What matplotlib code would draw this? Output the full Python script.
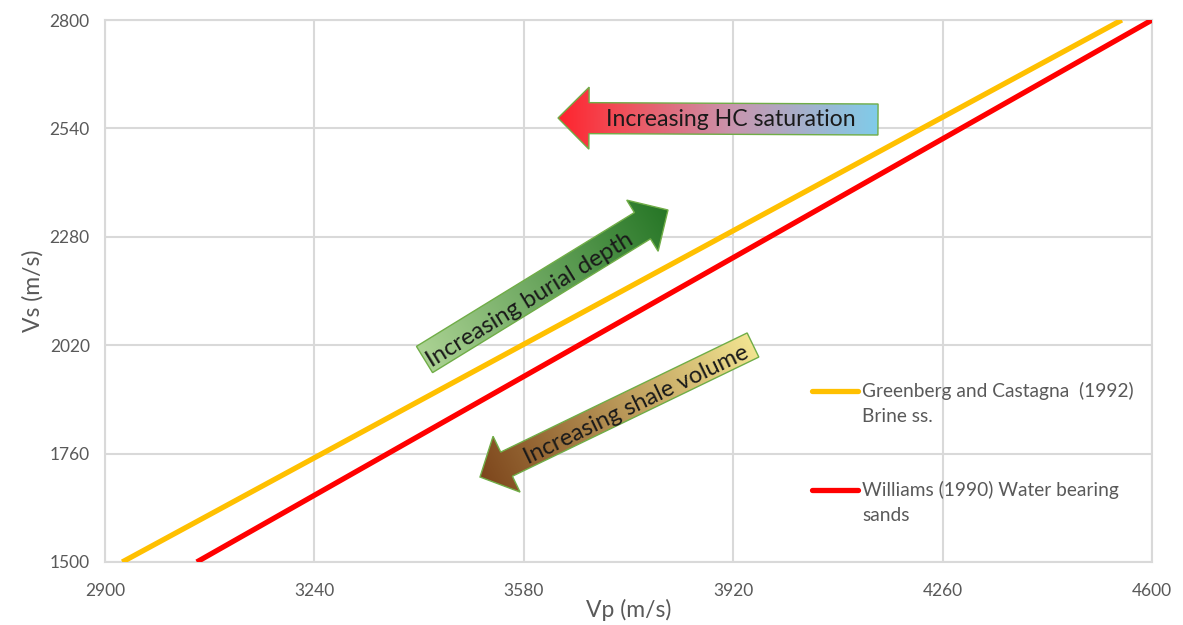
import numpy as np
import matplotlib
matplotlib.use("Agg")
import matplotlib.pyplot as plt
from matplotlib.patches import Polygon
from matplotlib.lines import Line2D

# ---- data -------------------------------------------------------------
vp_ticks = [2900, 3240, 3580, 3920, 4260, 4600]
vs_ticks = [1500, 1760, 2020, 2280, 2540, 2800]

# Greenberg & Castagna (1992) brine sandstone trend (end points)
gc_vp = [2928, 4551]
gc_vs = [1500, 2800]
gc_label = ["Greenberg and Castagna  (1992)", "Brine ss."]

# Williams (1990) water bearing sands trend (end points)
wl_vp = [3049, 4600]
wl_vs = [1500, 2800]
wl_label = ["Williams (1990) Water bearing", "sands"]

gc_color = "#FFC000"
wl_color = "#FF0000"

FONT = "Lato"
GRAY = "#595959"
GRID = "#D9D9D9"

W, H = 1183, 625
fig = plt.figure(figsize=(W / 100, H / 100), dpi=100)
ax = fig.add_axes([105 / W, (H - 562) / H, 1047 / W, 542 / H])

ax.plot(gc_vp, gc_vs, color=gc_color, lw=3.8, solid_capstyle="butt", zorder=3)
ax.plot(wl_vp, wl_vs, color=wl_color, lw=3.8, solid_capstyle="butt", zorder=3)

ax.set_xlim(vp_ticks[0], vp_ticks[-1])
ax.set_ylim(vs_ticks[0], vs_ticks[-1])
ax.set_xticks(vp_ticks)
ax.set_yticks(vs_ticks)
ax.grid(True, color=GRID, lw=1.5, zorder=0)
ax.set_axisbelow(True)
for s in ax.spines.values():
    s.set_color(GRID)
    s.set_linewidth(1.5)
ax.tick_params(length=0, labelsize=12.5, labelcolor=GRAY)
for lab in ax.get_xticklabels() + ax.get_yticklabels():
    lab.set_fontfamily(FONT)
ax.tick_params(axis="x", pad=15)
ax.tick_params(axis="y", pad=11)
ax.set_xlabel("Vp (m/s)", fontsize=16.5, color=GRAY, family=FONT, labelpad=0)
ax.set_ylabel("Vs (m/s)", fontsize=16.5, color=GRAY, family=FONT, labelpad=4)

# ---- overlay in pixel coordinates for the annotation arrows --------------
ov = fig.add_axes([0, 0, 1, 1], facecolor="none")
ov.set_xlim(0, W)
ov.set_ylim(H, 0)
ov.axis("off")


def arrow_polygon(tail, tip, bw, hw, hl):
    tail = np.asarray(tail, float)
    tip = np.asarray(tip, float)
    u = (tip - tail) / np.linalg.norm(tip - tail)
    n = np.array([-u[1], u[0]])
    hb = tip - u * hl
    return np.array([tail + n * bw, hb + n * bw, hb + n * hw, tip,
                     hb - n * hw, hb - n * bw, tail - n * bw])


def gradient_arrow(tail, tip, bw, hw, hl, stops, edge="#70AD47"):
    pts = arrow_polygon(tail, tip, bw, hw, hl)
    poly = Polygon(pts, closed=True, facecolor="none", edgecolor=edge,
                   lw=1.0, zorder=6)
    ov.add_patch(poly)
    x0, y0 = pts.min(axis=0) - 2
    x1, y1 = pts.max(axis=0) + 2
    xs = np.linspace(x0, x1, 300)
    ys = np.linspace(y0, y1, 300)
    X, Y = np.meshgrid(xs, ys)
    a = np.asarray(tail, float)
    b = np.asarray(tip, float)
    d = b - a
    t = ((X - a[0]) * d[0] + (Y - a[1]) * d[1]) / (d @ d)
    t = np.clip(t, 0, 1)
    pos = [s[0] for s in stops]
    cols = np.array([s[1] for s in stops], float) / 255.0
    img = np.zeros(X.shape + (3,))
    for k in range(3):
        img[..., k] = np.interp(t, pos, cols[:, k])
    im = ov.imshow(img, extent=(x0, x1, y0, y1), origin="lower",
                   interpolation="bilinear", zorder=5, aspect="auto")
    im.set_clip_path(poly)
    return pts


# Increasing HC saturation (points left)
gradient_arrow((878, 119.5), (558, 118), 15.5, 31, 31,
               [(0.0, (128, 204, 234)), (0.45, (200, 150, 175)),
                (0.8, (240, 80, 90)), (1.0, (255, 35, 45))])
ov.text(731, 119, "Increasing HC saturation", fontsize=16.6, family=FONT,
        color="#1a1a1a", ha="center", va="center", zorder=7)

# Increasing burial depth (points up-right)
gradient_arrow((424.5, 359.5), (668, 210), 15.4, 30, 30,
               [(0.0, (172, 211, 148)), (1.0, (38, 118, 38))])
ov.text(530, 300, "Increasing burial depth", fontsize=17.2, family=FONT,
        color="#1a1a1a", ha="center", va="center", rotation=31.5,
        rotation_mode="anchor", zorder=7)

# Increasing shale volume (points down-left)
gradient_arrow((753, 345), (480, 477), 13.4, 31, 29.5,
               [(0.0, (242, 228, 145)), (1.0, (125, 70, 28))])
ov.text(636, 405, "Increasing shale volume", fontsize=17, family=FONT,
        color="#1a1a1a", ha="center", va="center", rotation=25.8,
        rotation_mode="anchor", zorder=7)

# ---- legend -----------------------------------------------------------
for y, color, label in [(391, gc_color, gc_label), (490, wl_color, wl_label)]:
    ov.add_line(Line2D([812, 858], [y, y], color=color, lw=3.8,
                       solid_capstyle="round", zorder=7))
    ov.text(862, y, label[0], fontsize=13.8, family=FONT, color=GRAY,
            ha="left", va="center", zorder=7)
    ov.text(862, y + 25.5, label[1], fontsize=13.8, family=FONT, color=GRAY,
            ha="left", va="center", zorder=7)

fig.savefig("out.png", dpi=100)
